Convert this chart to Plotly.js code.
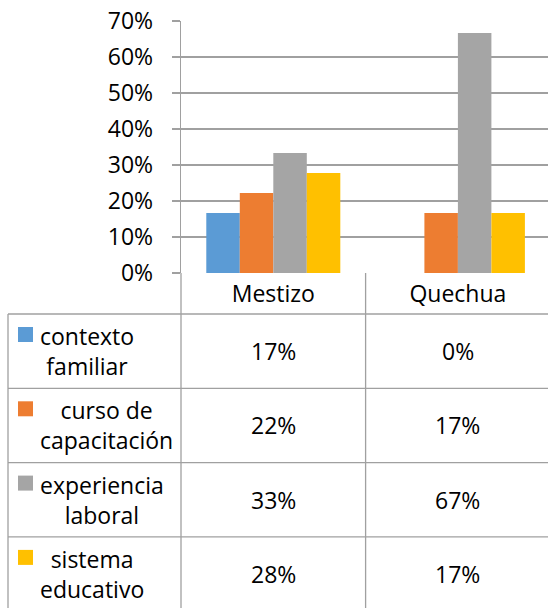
<!DOCTYPE html>
<html>
<head>
<meta charset="utf-8">
<script src="https://cdn.plot.ly/plotly-3.0.1.min.js"></script>
<style>html,body{margin:0;padding:0;background:#fff;}#chart{width:548px;height:608px;}</style>
</head>
<body>
<div id="chart"></div>
<script>
// ---- data ----
const categories = ['Mestizo', 'Quechua'];
const seriesLabels = ['contexto<br>familiar', 'curso de<br>capacitación', 'experiencia<br>laboral', 'sistema<br>educativo'];
const contextoFamiliar = [0.1667, 0];
const cursoCapacitacion = [0.2222, 0.1667];
const experienciaLaboral = [0.3333, 0.6667];
const sistemaEducativo = [0.2778, 0.1667];
const yTickVals = [0, 0.1, 0.2, 0.3, 0.4, 0.5, 0.6, 0.7];
const yTickText = ['0%', '10%', '20%', '30%', '40%', '50%', '60%', '70%'];
const colors = ['#5b9bd5', '#ed7d31', '#a5a5a5', '#ffc000'];

const seriesValues = [contextoFamiliar, cursoCapacitacion, experienciaLaboral, sistemaEducativo];

// ---- geometry helpers (pixel -> paper) ----
const W = 548, H = 608;
const M = {l: 181, r: 0, t: 21, b: 335};
const PW = W - M.l - M.r, PH = H - M.t - M.b;
const px = x => (x - M.l) / PW;
const py = y => (H - M.b - y) / PH;

const font = {family: '"Open Sans", sans-serif', size: 23, color: '#000'};
const lineColor = '#a0a0a0';

const traces = seriesValues.map((vals, i) => ({
  type: 'bar',
  x: categories,
  y: vals,
  name: seriesLabels[i].replace('<br>', ' '),
  marker: {color: colors[i]},
  hoverinfo: 'skip'
}));

// table rows (pixel boundaries)
const headerTop = 273, headerBottom = 314, rowH = 74.3;
const shapes = [];
const annotations = [];

// vertical lines in the table
shapes.push({type: 'line', xref: 'paper', yref: 'paper', x0: 0, x1: 0, y0: py(headerTop), y1: py(H + 2), line: {color: lineColor, width: 1.3}});
shapes.push({type: 'line', xref: 'x', yref: 'paper', x0: 0.5, x1: 0.5, y0: py(headerTop), y1: py(H + 2), line: {color: lineColor, width: 1.3}});
shapes.push({type: 'line', xref: 'paper', yref: 'paper', x0: px(8), x1: px(8), y0: py(headerBottom), y1: py(H + 2), line: {color: lineColor, width: 1.3}});
// horizontal lines
for (let r = 0; r <= seriesLabels.length - 1; r++) {
  const y = headerBottom + r * rowH;
  shapes.push({type: 'line', xref: 'paper', yref: 'paper', x0: px(8), x1: px(W + 2), y0: py(y), y1: py(y), line: {color: lineColor, width: 1.3}});
}

seriesLabels.forEach((lab, r) => {
  const top = headerBottom + r * rowH;
  const mid = top + rowH / 2;
  // legend key
  shapes.push({type: 'rect', xref: 'paper', yref: 'paper', x0: px(18), x1: px(33), y0: py(top + 13), y1: py(top + 28), fillcolor: colors[r], line: {width: 0}});
  // label
  annotations.push({xref: 'paper', yref: 'paper', x: px(38), y: py(mid), xanchor: 'left', yanchor: 'middle', align: 'center', text: lab, showarrow: false, font: font});
  // values
  categories.forEach((c, ci) => {
    annotations.push({xref: 'x', yref: 'paper', x: ci, y: py(mid), xanchor: 'center', yanchor: 'middle', text: Math.round(seriesValues[r][ci] * 100) + '%', showarrow: false, font: font});
  });
});

const layout = {
  width: W, height: H,
  margin: M,
  paper_bgcolor: '#fff', plot_bgcolor: '#fff',
  showlegend: false,
  barmode: 'group',
  bargap: 0.274,
  bargroupgap: 0,
  font: font,
  xaxis: {
    type: 'category',
    range: [-0.5, -0.5 + PW / 184.6],
    showgrid: false, zeroline: false, showline: false,
    ticks: '', tickfont: font, ticklabelstandoff: 5
  },
  yaxis: {
    range: [0, 0.7],
    tickvals: yTickVals, ticktext: yTickText,
    showgrid: true, gridcolor: lineColor, gridwidth: 1.3,
    zeroline: false,
    showline: true, linecolor: lineColor, linewidth: 1.3,
    ticks: 'outside', ticklen: 8, tickcolor: lineColor, tickwidth: 1.3,
    tickfont: font, ticklabelstandoff: 14
  },
  shapes: shapes,
  annotations: annotations
};

Plotly.newPlot('chart', traces, layout, {staticPlot: true, displayModeBar: false});
</script>
</body>
</html>
